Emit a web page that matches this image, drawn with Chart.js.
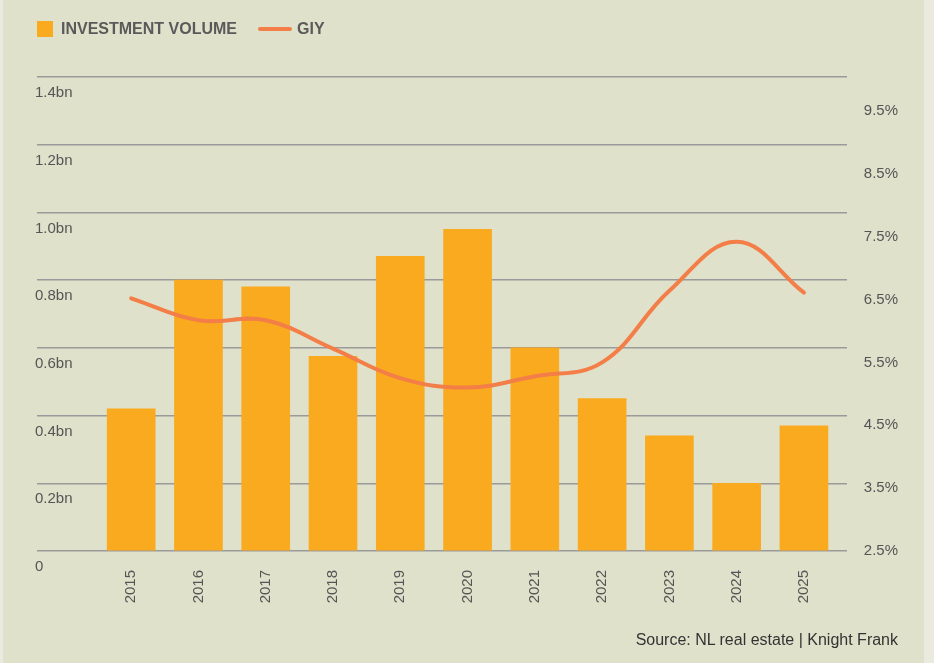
<!DOCTYPE html>
<html>
<head>
<meta charset="utf-8">
<title>Investment volume and GIY</title>
<script src="https://cdn.jsdelivr.net/npm/chart.js"></script>
<style>
  html, body { margin: 0; padding: 0; }
  body { width: 934px; height: 663px; background: #eaeadf; position: relative; overflow: hidden;
         font-family: "Liberation Sans", Arial, sans-serif; }
  #panel { position: absolute; left: 3px; top: 0; width: 921px; height: 663px; background: #e0e1cb; }
  #chart { position: absolute; left: 0; top: 0; }
  .legend { position: absolute; top: 20px; left: 37px; display: flex; align-items: center;
            font-weight: bold; font-size: 16px; color: #5a5a5a; }
  .sw-bar { width: 16px; height: 16px; background: #f9aa1e; margin-right: 8px; }
  .sw-line { width: 34px; height: 4px; border-radius: 2px; background: #f37e47; margin: 0 5px 0 21px; }
  .source { position: absolute; right: 36px; top: 631px; font-size: 16px; color: #333; }
</style>
</head>
<body>
<div id="panel"></div>
<canvas id="chart" width="934" height="663"></canvas>
<div class="legend">
  <span class="sw-bar"></span><span>INVESTMENT VOLUME</span>
  <span class="sw-line"></span><span>GIY</span>
</div>
<div class="source">Source: NL real estate | Knight Frank</div>
<script>
// years on the x axis
const years = [2015, 2016, 2017, 2018, 2019, 2020, 2021, 2022, 2023, 2024, 2025];
// investment volume, EUR bn
const volume = [0.42, 0.80, 0.78, 0.575, 0.87, 0.95, 0.60, 0.45, 0.34, 0.20, 0.37];
// gross initial yield, %
const giy = [6.52, 6.17, 6.17, 5.72, 5.25, 5.10, 5.28, 5.50, 6.64, 7.42, 6.61];
// tick values
const volumeTicks = [0, 0.2, 0.4, 0.6, 0.8, 1.0, 1.2, 1.4];
const giyTicks = [2.5, 3.5, 4.5, 5.5, 6.5, 7.5, 8.5, 9.5];

const tickFont = { family: '"Liberation Sans", Arial, sans-serif', size: 15 };
const tickColor = '#555555';

new Chart(document.getElementById('chart'), {
  data: {
    datasets: [
      {
        type: 'line',
        label: 'GIY',
        data: years.map((y, i) => ({ x: y, y: giy[i] })),
        yAxisID: 'yr',
        borderColor: '#f37e47',
        borderWidth: 4,
        borderCapStyle: 'round',
        pointRadius: 0,
        tension: 0.4,
        order: 0
      },
      {
        type: 'bar',
        label: 'INVESTMENT VOLUME',
        data: years.map((y, i) => ({ x: y, y: volume[i] })),
        yAxisID: 'y',
        backgroundColor: '#f9aa1e',
        barThickness: 48,
        order: 1
      }
    ]
  },
  options: {
    responsive: false,
    animation: false,
    layout: { padding: { left: 37, top: 77, right: 36, bottom: 0 } },
    plugins: { legend: { display: false }, tooltip: { enabled: false } },
    scales: {
      x: {
        type: 'linear',
        offset: false,
        min: 2013.6,
        max: 2025.64,
        grid: { display: false, offset: false },
        border: { display: false },
        afterBuildTicks: s => { s.ticks = years.map(v => ({ value: v })); },
        afterFit: s => { s.height = 112; },
        ticks: {
          minRotation: 90, maxRotation: 90,
          padding: 11,
          font: tickFont, color: tickColor,
          callback: v => String(v)
        }
      },
      y: {
        position: 'left',
        min: 0, max: 1.4,
        afterBuildTicks: s => { s.ticks = volumeTicks.map(v => ({ value: v })); },
        afterFit: s => { s.width = 0; },
        grid: { color: '#9a9a9a', lineWidth: 1.5, drawTicks: false },
        border: { display: false },
        ticks: {
          mirror: true, padding: -2, labelOffset: 16,
          font: tickFont, color: tickColor,
          callback: v => v === 0 ? '0' : v.toFixed(1) + 'bn'
        }
      },
      yr: {
        position: 'right',
        min: 2.5, max: 10.04,
        afterBuildTicks: s => { s.ticks = giyTicks.map(v => ({ value: v })); },
        afterFit: s => { s.width = 51; },
        grid: { display: false, drawTicks: false },
        border: { display: false },
        ticks: {
          crossAlign: 'far',
          font: tickFont, color: tickColor,
          callback: v => v.toFixed(1) + '%'
        }
      }
    }
  }
});
</script>
</body>
</html>
